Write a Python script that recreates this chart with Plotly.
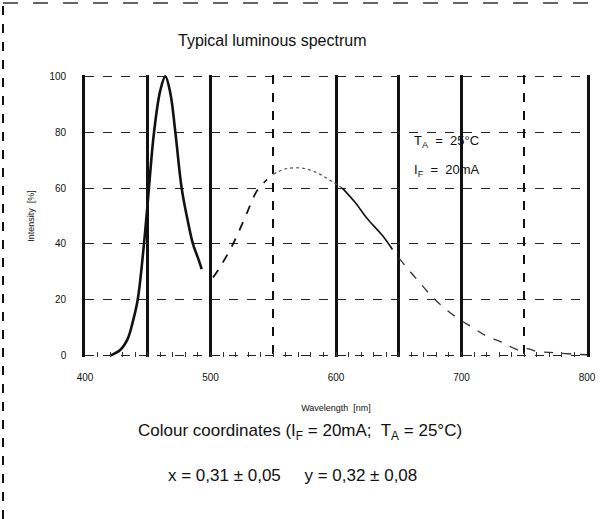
import plotly.graph_objects as go

# Blue emission peak (solid)
blue_nm = [420, 428, 434, 438, 442, 447, 450, 455, 460, 464, 468, 472, 477, 482, 486, 490, 493]
blue_val = [0, 2, 6, 12, 20, 40, 55, 80, 95, 100, 94, 80, 60, 48, 40, 35, 31]

# Phosphor emission, drawn in pieces as in the scanned original
ph1_nm = [502, 508, 518, 528, 537, 545]
ph1_val = [28, 32, 40, 50, 59, 63]
ph2_nm = [550, 561, 575, 587, 598, 605]
ph2_val = [65, 67, 67, 65, 62, 60]
ph3_nm = [605, 615, 625, 637, 645]
ph3_val = [60, 55, 49, 43, 38]
ph4_nm = [650, 665, 679, 695, 709, 720, 731, 740, 747, 752, 760, 775, 790, 800]
ph4_val = [35, 27, 20, 14, 10, 7, 5, 3, 1.8, 2.5, 1.5, 1, 0.5, 0.3]

x_solid_grid = [400, 450, 500, 600, 650, 700, 800]
x_solid_labels = ["400", "", "500", "600", "", "700", "800"]
x_dashed_grid = [550, 750]
y_ticks = [0, 20, 40, 60, 80, 100]

BLACK = "#111111"
FONT = "Liberation Sans, Arial, sans-serif"

W, H = 603, 519
L, R, T, B = 85, 16, 75, 162
PW, PH = W - L - R, H - T - B


def px(x):
    return (x - L) / PW


def py(y):
    return (H - B - y) / PH


fig = go.Figure()
fig.add_trace(go.Scatter(x=blue_nm, y=blue_val, mode="lines",
                         line=dict(color=BLACK, width=2.6, shape="spline")))
fig.add_trace(go.Scatter(x=ph1_nm, y=ph1_val, mode="lines",
                         line=dict(color=BLACK, width=1.8, dash="dash", shape="spline")))
fig.add_trace(go.Scatter(x=ph2_nm, y=ph2_val, mode="lines",
                         line=dict(color="#555555", width=1.2, dash="dot", shape="spline")))
fig.add_trace(go.Scatter(x=ph3_nm, y=ph3_val, mode="lines",
                         line=dict(color=BLACK, width=1.6, shape="spline")))
fig.add_trace(go.Scatter(x=ph4_nm, y=ph4_val, mode="lines",
                         line=dict(color="#333333", width=1.3, dash="dash", shape="spline")))
# invisible helper trace so the second x axis (dashed grid lines) is drawn
fig.add_trace(go.Scatter(x=[x_solid_grid[0]], y=[y_ticks[0]], xaxis="x2", mode="markers",
                         marker=dict(opacity=0), hoverinfo="skip"))

fig.update_layout(
    width=W, height=H,
    margin=dict(l=L, r=R, t=T, b=B, autoexpand=False),
    paper_bgcolor="white", plot_bgcolor="white",
    showlegend=False,
    font=dict(family=FONT, color=BLACK),
    xaxis=dict(
        range=[400, 800], tickmode="array",
        tickvals=x_solid_grid, ticktext=x_solid_labels,
        showgrid=True, gridcolor=BLACK, gridwidth=2.6,
        showline=False, zeroline=False,
        ticks="inside", ticklen=5, tickwidth=1, tickcolor="#333333",
        tickfont=dict(size=10, family=FONT), ticklabelstandoff=13,
        minor=dict(ticks="inside", tickmode="linear", tick0=400, dtick=10, ticklen=5,
                   tickwidth=1, tickcolor="#333333", showgrid=False),
        title=dict(text="Wavelength  [nm]", font=dict(size=9, family=FONT), standoff=22),
    ),
    xaxis2=dict(overlaying="x", matches="x", side="bottom", tickmode="array",
                tickvals=x_dashed_grid, showticklabels=False, ticks="",
                showgrid=True, gridcolor=BLACK, gridwidth=2.2, griddash="dash",
                showline=False, zeroline=False),
    yaxis=dict(
        range=[-0.5, 100.5], tickvals=y_ticks, ticktext=[str(v) for v in y_ticks],
        showgrid=True, gridcolor="#222222", gridwidth=1.2, griddash="dash",
        showline=True, mirror=True, linecolor=BLACK, linewidth=2.6,
        zeroline=False, ticks="",
        tickfont=dict(size=10, family=FONT), ticklabelstandoff=14,
        title=dict(text="Intensity  [%]", font=dict(size=9, family=FONT), standoff=14),
    ),
)

texts = [
    ("Typical luminous spectrum", 272, 40, 16, "center"),
    ("T<sub>A</sub>  =  25°C", 412, 141, 13, "left"),
    ("I<sub>F</sub>  =  20mA", 412, 170, 13, "left"),
    ("Colour coordinates (I<sub>F</sub> = 20mA;  T<sub>A</sub> = 25°C)", 300, 432, 17, "center"),
    ("x = 0,31 ± 0,05     y = 0,32 ± 0,08", 292, 475, 17, "center"),
]
anns = []
for txt, x, y, size, anchor in texts:
    anns.append(dict(text=txt, x=px(x), y=py(y), xref="paper", yref="paper",
                     xanchor=anchor, yanchor="middle", showarrow=False,
                     font=dict(size=size, family=FONT, color=BLACK)))
fig.update_layout(annotations=anns)

# scanned page frame (left and top edges)
fig.add_shape(type="line", xref="paper", yref="paper", x0=px(3), x1=px(3), y0=py(519), y1=py(3),
              line=dict(color=BLACK, width=2, dash="dash"))
fig.add_shape(type="line", xref="paper", yref="paper", x0=px(3), x1=px(602), y0=py(3), y1=py(3),
              line=dict(color="#333333", width=1.5, dash="longdash"))

fig.write_html("out.html", config={"displayModeBar": False},
               post_script="document.body.style.margin='0';document.body.style.padding='0';")
